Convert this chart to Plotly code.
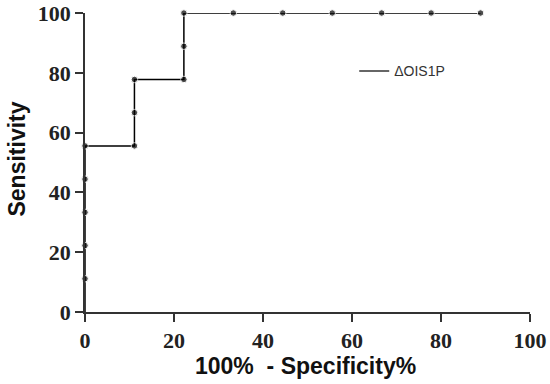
import plotly.graph_objects as go

fpr = [0, 0, 0, 0, 0, 0, 11.11, 11.11, 11.11, 22.22, 22.22, 22.22, 33.33, 44.44, 55.56, 66.67, 77.78, 88.89]
tpr = [0, 11.11, 22.22, 33.33, 44.44, 55.56, 55.56, 66.67, 77.78, 77.78, 88.89, 100, 100, 100, 100, 100, 100, 100]
series_name = "ΔOIS1P"
tick_vals = [0, 20, 40, 60, 80, 100]
x_title = "100%  - Specificity%"
y_title = "Sensitivity"

marker_sizes = [0] + [6.5] * (len(fpr) - 1)

fig = go.Figure()
fig.add_trace(go.Scatter(
    x=fpr, y=tpr, mode="lines+markers", name=series_name,
    line=dict(color="black", width=1.5),
    marker=dict(color="black", size=marker_sizes),
    showlegend=False, cliponaxis=False,
))
fig.add_trace(go.Scatter(
    x=[None], y=[None], mode="lines", name=series_name,
    line=dict(color="#333333", width=1.5), showlegend=True,
))

tickfont = dict(family="Liberation Serif", size=22, color="#222222", weight="bold")
titlefont = dict(family="Liberation Sans", size=23, color="#111111", weight="bold")

axis_common = dict(range=[0, 100], tickvals=tick_vals, ticks="outside", ticklen=8, tickwidth=1.5,
                   tickcolor="#333333", showline=True, linecolor="#333333", linewidth=1.5,
                   showgrid=False, zeroline=False, tickfont=tickfont, automargin=False,
                   ticklabeloverflow="allow")

fig.update_layout(
    width=550, height=384,
    margin=dict(l=85, r=20, t=13, b=72),
    plot_bgcolor="white", paper_bgcolor="white",
    showlegend=True,
    legend=dict(x=0.605, y=0.805, xanchor="left", yanchor="middle",
                font=dict(family="Liberation Sans", size=14, color="#333333"),
                bgcolor="rgba(0,0,0,0)"),
    xaxis=dict(**axis_common),
    yaxis=dict(**axis_common),
    annotations=[
        dict(text=x_title, xref="paper", yref="paper", x=0.495, y=0, yshift=-54,
             xanchor="center", yanchor="middle", showarrow=False, font=titlefont),
        dict(text=y_title, xref="paper", yref="paper", x=0, y=0.51, xshift=-68,
             xanchor="center", yanchor="middle", showarrow=False, font=titlefont,
             textangle=-90),
    ],
)

# remove the browser's default 8px body margin so the figure fills the window exactly
fig.write_html("out.html",
               config={"displayModeBar": False},
               post_script="document.body.style.margin='0';document.body.style.overflow='hidden';")
